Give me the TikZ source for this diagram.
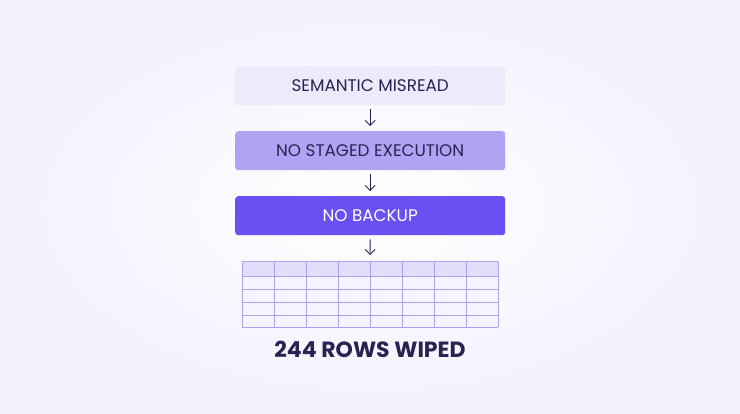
\documentclass[tikz,border=0pt]{standalone}
\usepackage{fontspec}
\setmainfont{Poppins}
\usetikzlibrary{arrows.meta}
\definecolor{tx}{HTML}{2A2250}
\definecolor{c1}{RGB}{236,234,251}
\definecolor{c2}{RGB}{178,162,243}
\definecolor{c3}{RGB}{106,80,240}
\definecolor{th}{RGB}{226,221,250}
\definecolor{tb}{RGB}{246,244,254}
\definecolor{tl}{RGB}{175,162,230}
\definecolor{bg}{RGB}{243,241,253}
\begin{document}
\begin{tikzpicture}[x=1pt,y=-1pt,
  box/.style={rounded corners=3pt,minimum width=270pt,minimum height=39pt,anchor=north west,inner sep=0pt,font=\fontsize{16.8}{18}\selectfont},
  arr/.style={-{Straight Barb[length=5pt,width=10pt]},line width=0.9pt,draw=tx}]
\fill[inner color=white,outer color=bg] (0,0) rectangle (740,413);
\useasboundingbox (0,0) rectangle (740,413);
\node[box,fill=c1,text=tx] (b1) at (235,66) {SEMANTIC MISREAD};
\node[box,fill=c2,text=tx] (b2) at (235,131) {NO STAGED EXECUTION};
\node[box,fill=c3,text=white] (b3) at (235,196) {NO BACKUP};
\coordinate (t) at (370,255);
\fill[th] (242,261) rectangle (498,276);
\fill[tb] (242,276) rectangle (498,327);
\foreach \y in {261,276,289,302,315,327} \draw[tl,line width=0.8pt] (242,\y) -- (498,\y);
\foreach \x in {242,274,306,338,370,402,434,466,498} \draw[tl,line width=0.8pt] (\x,261) -- (\x,327);
\draw[arr] ([yshift=-4pt]b1.south) -- ([yshift=5pt]b2.north);
\draw[arr] ([yshift=-4pt]b2.south) -- ([yshift=5pt]b3.north);
\draw[arr] ([yshift=-4pt]b3.south) -- (t);
\node[font=\fontsize{22}{24}\selectfont\bfseries,text=tx] (cap) at (370,349) {244 ROWS WIPED};
\end{tikzpicture}
\end{document}
